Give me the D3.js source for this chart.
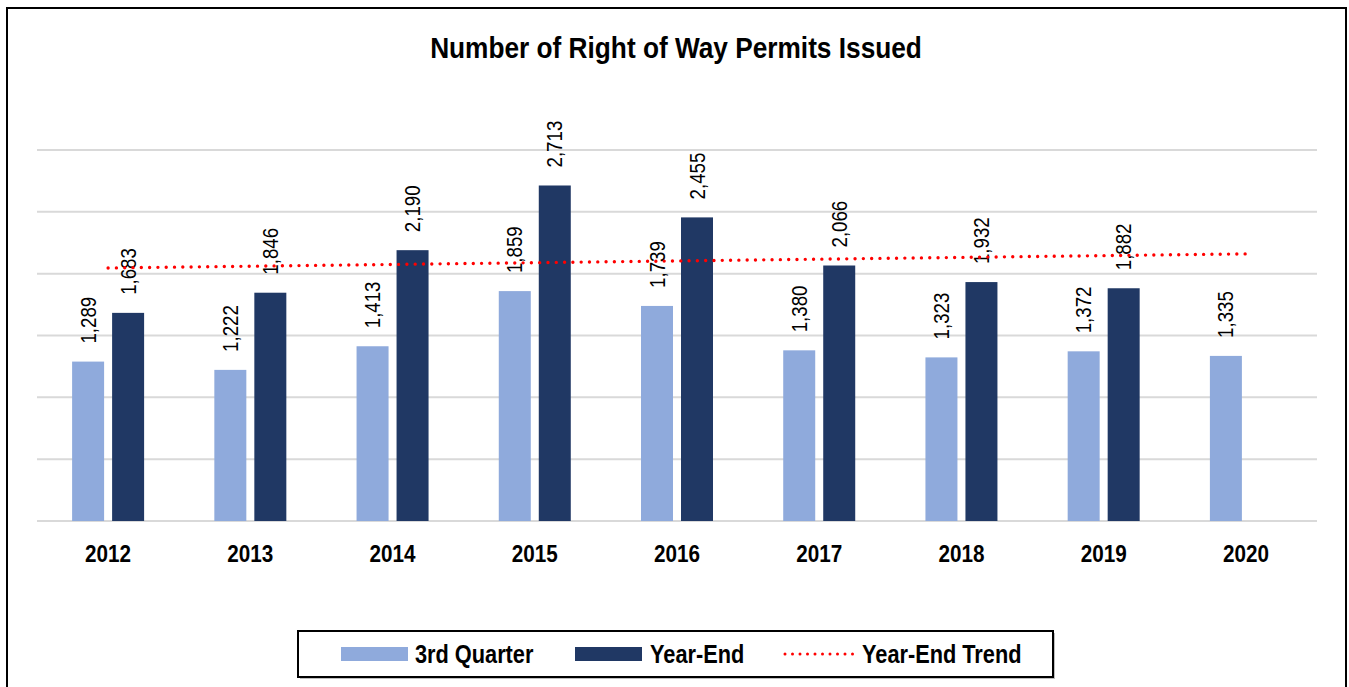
<!DOCTYPE html>
<html>
<head>
<meta charset="utf-8">
<script src="https://cdn.jsdelivr.net/npm/d3@7"></script>
<style>
  html, body { margin: 0; padding: 0; background: #fff; }
  svg { display: block; }
  text { font-family: "Liberation Sans Narrow", "Arial Narrow", "Liberation Sans", Arial, sans-serif; }
</style>
</head>
<body>
<svg id="chart" width="1349" height="687"></svg>
<script>
const title = "Number of Right of Way Permits Issued";
const years = ["2012", "2013", "2014", "2015", "2016", "2017", "2018", "2019", "2020"];
const thirdQuarter = [1289, 1222, 1413, 1859, 1739, 1380, 1323, 1372, 1335];
const yearEnd = [1683, 1846, 2190, 2713, 2455, 2066, 1932, 1882, null];
const trendYears = ["2012", "2020"];
const trendValues = [2046, 2160];
const yTicks = [0, 500, 1000, 1500, 2000, 2500, 3000];
const seriesNames = ["3rd Quarter", "Year-End", "Year-End Trend"];

const colors = { q3: "#8faadc", ye: "#203864", trend: "#ff0000", grid: "#d9d9d9" };
const NARROW = 0.87; // emulate a condensed face

const svg = d3.select("#chart");

// outer frame (bottom runs off the picture)
svg.append("path")
  .attr("d", "M7,690 L7,8 L1346,8 L1346,690")
  .attr("fill", "none").attr("stroke", "#000").attr("stroke-width", 2);

svg.append("text")
  .attr("transform", `translate(676,58) scale(0.875,1)`)
  .attr("text-anchor", "middle")
  .attr("font-weight", "bold").attr("font-size", 30)
  .text(title);

const x = d3.scaleBand().domain(years).range([37, 1317]).padding(0);
const sub = d3.scaleBand().domain(["q3", "ye"]).range([0, 72]).paddingInner(0.2);
const y = d3.scaleLinear().domain([0, 3000]).range([521, 150]);

// gridlines
svg.append("g").selectAll("line").data(yTicks).join("line")
  .attr("x1", 37).attr("x2", 1317)
  .attr("y1", d => y(d)).attr("y2", d => y(d))
  .attr("stroke", colors.grid).attr("stroke-width", 2);

// x axis labels
const xAxis = d3.axisBottom(x).tickSize(0).tickPadding(0);
const gx = svg.append("g").attr("transform", "translate(0,521)").call(xAxis);
gx.select(".domain").remove();
gx.selectAll("text")
  .attr("dy", null).attr("y", null).attr("x", null)
  .attr("transform", "translate(0,41) scale(0.88,1)")
  .attr("font-size", 23.5).attr("font-weight", "bold").attr("fill", "#000")
  .style("font-family", '"Liberation Sans Narrow", "Arial Narrow", "Liberation Sans", Arial, sans-serif');

const rows = years.map((yr, i) => ({ yr, q3: thirdQuarter[i], ye: yearEnd[i] }));
const bars = [];
rows.forEach(r => {
  ["q3", "ye"].forEach(k => {
    if (r[k] != null) bars.push({ yr: r.yr, key: k, v: r[k] });
  });
});
const bx = d => x(d.yr) + x.bandwidth() / 2 - 36 + sub(d.key);

svg.append("g").selectAll("rect").data(bars).join("rect")
  .attr("x", bx)
  .attr("width", sub.bandwidth())
  .attr("y", d => y(d.v))
  .attr("height", d => y(0) - y(d.v))
  .attr("fill", d => colors[d.key]);

// value labels (rotated)
const fmt = d3.format(",");
svg.append("g").selectAll("text").data(bars).join("text")
  .attr("transform", d => `translate(${bx(d) + sub.bandwidth() / 2 + 7.5},${y(d.v) - 18}) rotate(-90) scale(0.85,1)`)
  .attr("text-anchor", "start")
  .attr("font-size", 22).attr("fill", "#000")
  .text(d => fmt(d.v));

// trend line
const line = d3.line().x(d => x(d[0]) + x.bandwidth() / 2).y(d => y(d[1]));
svg.append("path")
  .datum(trendYears.map((t, i) => [t, trendValues[i]]))
  .attr("d", line)
  .attr("fill", "none").attr("stroke", colors.trend)
  .attr("stroke-width", 3.4).attr("stroke-linecap", "round")
  .attr("stroke-dasharray", "0 8.3");

// legend
const lg = svg.append("g");
lg.append("rect").attr("x", 300).attr("y", 633).attr("width", 755).attr("height", 46)
  .attr("fill", "#bfbfbf");
lg.append("rect").attr("x", 298).attr("y", 631).attr("width", 755).attr("height", 46)
  .attr("fill", "#fff").attr("stroke", "#000").attr("stroke-width", 2);
const legendItems = [
  { name: seriesNames[0], type: "rect", color: colors.q3, sx: 341, tx: 415 },
  { name: seriesNames[1], type: "rect", color: colors.ye, sx: 575, tx: 650 },
  { name: seriesNames[2], type: "line", color: colors.trend, sx: 785, tx: 862 }
];
legendItems.forEach(it => {
  if (it.type === "rect") {
    lg.append("rect").attr("x", it.sx).attr("y", 647).attr("width", 67).attr("height", 14).attr("fill", it.color);
  } else {
    lg.append("line").attr("x1", it.sx).attr("x2", it.sx + 68).attr("y1", 654).attr("y2", 654)
      .attr("stroke", it.color).attr("stroke-width", 3).attr("stroke-linecap", "round")
      .attr("stroke-dasharray", "0 7.5");
  }
  lg.append("text").attr("transform", `translate(${it.tx},663) scale(${NARROW},1)`)
    .attr("font-size", 25).attr("font-weight", "bold").attr("fill", "#000")
    .text(it.name);
});
</script>
</body>
</html>
